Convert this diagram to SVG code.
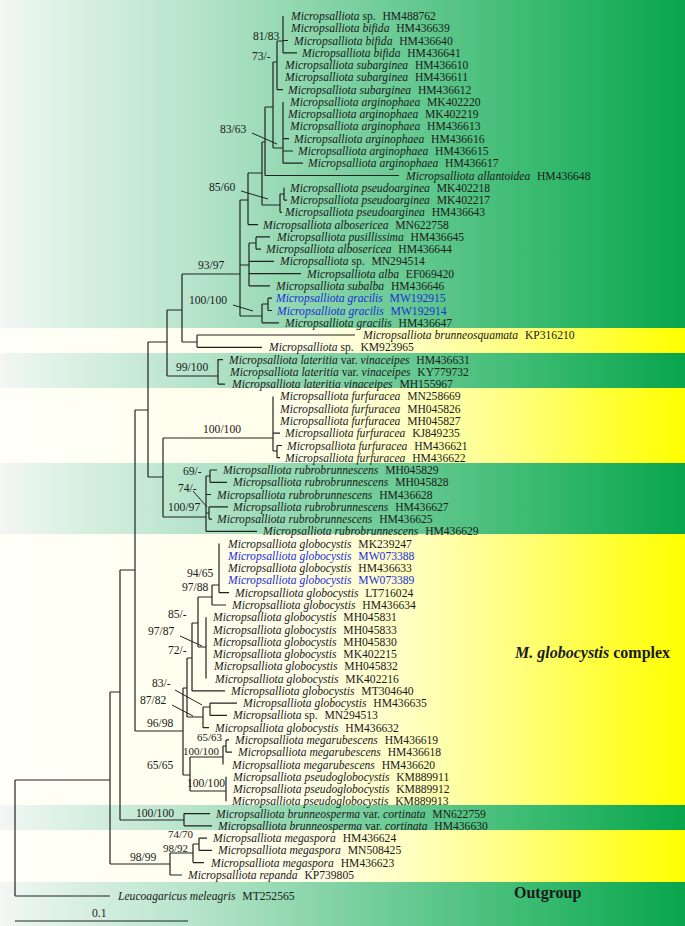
<svg xmlns="http://www.w3.org/2000/svg" width="685" height="926" viewBox="0 0 685 926">
<defs>
<linearGradient id="gg" x1="0" y1="0" x2="685" y2="0" gradientUnits="userSpaceOnUse">
<stop offset="0" stop-color="#f4f6f5"/><stop offset="0.06" stop-color="#e4f3ea"/><stop offset="0.3" stop-color="#b3e3c8"/><stop offset="0.55" stop-color="#72cd9a"/><stop offset="0.8" stop-color="#35b96d"/><stop offset="1" stop-color="#08a54c"/>
</linearGradient>
<linearGradient id="gy" x1="0" y1="0" x2="685" y2="0" gradientUnits="userSpaceOnUse">
<stop offset="0" stop-color="#fffff8"/><stop offset="0.45" stop-color="#fffee8"/><stop offset="0.6" stop-color="#ffffc0"/><stop offset="0.75" stop-color="#ffff80"/><stop offset="0.9" stop-color="#ffff30"/><stop offset="1" stop-color="#ffff00"/>
</linearGradient>
<style>
.g{fill:url(#gg)}
.y{fill:url(#gy)}
text{font-family:"Liberation Serif","Times New Roman",serif;font-size:11.6px;fill:#1a1a1a}
.i{font-style:italic}
.bl,.bl tspan{fill:#1c2ed8}
.ln{fill:none;stroke:#222;stroke-width:1.2}
.pt{fill:none;stroke:#222;stroke-width:1}
.h{font-size:16px;font-weight:bold}
.sm{font-size:11px}
</style>
</defs>
<g id="bands">
<rect class="g" x="0" y="0" width="685" height="328"/>
<rect class="y" x="0" y="328" width="685" height="25"/>
<rect class="g" x="0" y="353" width="685" height="35"/>
<rect class="y" x="0" y="388" width="685" height="75"/>
<rect class="g" x="0" y="463" width="685" height="71"/>
<rect class="y" x="0" y="534" width="685" height="271"/>
<rect class="g" x="0" y="805" width="685" height="25"/>
<rect class="y" x="0" y="830" width="685" height="52"/>
<rect class="g" x="0" y="882" width="685" height="44"/>
</g>
<g id="connectors">
<path class="ln" d="M15 780V896M15 780H110M15 896H110M110 692V864M110 864H170M170 853V875M170 875H182M170 853H193M193 844V862.6M193 862.6H204M193 844H199M199 838.1V850.4M199 838.1H207M199 850.4H212"/>
<path class="ln" d="M110 692H120M120 570V820M120 820H184M184 813.6V825.8M184 813.6H210M184 825.8H212M120 570H135"/>
<path class="ln" d="M135 410V731M135 731H183M135 410H148M148 342V477M148 342H167M148 477H163"/>
<path class="ln" d="M167 310V376M167 376H218M218 359.6V384.1M218 359.6H223M218 384.1H225M167 310H182"/>
<path class="ln" d="M182 274V342M182 342H197M197 335V347.3M197 335H355M197 347.3H262M182 274H240"/>
<path class="ln" d="M240 200V316M240 200H248M240 265H249M240 316H262M248 173V224.6M248 224.6H258M248 173H262M262 142V205M262 142H265M262 205H280M280 194V212.3M280 212.3H282M280 194H284M284 187.8V200.1M284 200.1H287"/>
<path class="ln" d="M265 107V175.5M265 175.5H399M265 107H273M273 62V148M273 62H277M273 148H283M283 101.9V163.2M283 138.7H289M283 151H293M283 163.2H303M277 41V89.6M277 89.6H283M277 41H283M283 16V52.8M283 40.5H288M283 52.8H297"/>
<path class="ln" d="M249 243V285.9M249 243H256M249 261.4H274M249 273.7H301M249 285.9H270M256 236.9V249.1M256 236.9H270M256 249.1H261M262 304V322.8M262 304H268M262 322.8H279M268 298.2V310.5M268 298.2H272M268 310.5H272"/>
<path class="ln" d="M163 438V517M163 438H273M163 517H206M273 396.4V451M273 433.2H280M273 451H277M277 445.5V457.7M277 445.5H282M277 457.7H280"/>
<path class="ln" d="M206 476V531.4M206 476H210M206 494.5H211M206 513H209M206 531.4H257M210 470V482.3M210 470H217M210 482.3H227M209 506.8V519.1M209 506.8H228M209 519.1H212"/>
<path class="ln" d="M183 688V775M183 688H187M183 775H190M187 658V717M187 658H192M187 717H203M192 623V690.9M192 690.9H225M192 623H198M198 597V647M198 597H212M198 647H206M206 617.2V678.6M212 585V605M212 605H226M212 585H219M219 543.6V592.7M219 592.7H229"/>
<path class="ln" d="M203 707V727.7M203 727.7H209M203 707H210M210 703.1V715.4M210 703.1H237M210 715.4H227"/>
<path class="ln" d="M190 757V791M190 757H223M190 791H226M223 746V764.5M223 746H226M226 739.9V752.2M226 739.9H229M226 752.2H232M226 776.7V801.3"/>
<path class="pt" d="M252 133L277 144M241 191L268 199M233 305L253 311M193 491L207 507M180 636L202 646M175 690L202 705M172 705L193 716"/>
<path class="ln" d="M15 921H188"/>
</g>
<g id="support">
<text x="253" y="40">81/83</text>
<text x="252" y="60">73/-</text>
<text x="220" y="133">83/63</text>
<text x="209" y="191">85/60</text>
<text x="198" y="269">93/97</text>
<text x="189" y="304">100/100</text>
<text x="176" y="371">99/100</text>
<text x="203" y="433">100/100</text>
<text x="183" y="475">69/-</text>
<text x="178" y="492">74/-</text>
<text x="168" y="511">100/97</text>
<text x="187" y="577">94/65</text>
<text x="182" y="591">97/88</text>
<text x="168" y="618">85/-</text>
<text x="148" y="635">97/87</text>
<text x="168" y="654">72/-</text>
<text x="152" y="687">83/-</text>
<text x="140" y="704">87/82</text>
<text x="147" y="727">96/98</text>
<text class="sm" x="197" y="741">65/63</text>
<text class="sm" x="183" y="755">100/100</text>
<text x="147" y="769">65/65</text>
<text x="187" y="787">100/100</text>
<text x="136" y="817">100/100</text>
<text class="sm" x="168" y="838">74/70</text>
<text class="sm" x="163" y="852">98/92</text>
<text x="130" y="861">98/99</text>
<text x="92" y="917">0.1</text>
</g>
<g id="tips">
<g id="t1"><text x="291" y="20"><tspan class="i">Micropsalliota</tspan> sp.<tspan dx="6.8">HM488762</tspan></text></g>
<g id="t2"><text x="291" y="32.3"><tspan class="i">Micropsalliota bifida</tspan><tspan dx="6.8">HM436639</tspan></text></g>
<g id="t3"><text x="294" y="44.5"><tspan class="i">Micropsalliota bifida</tspan><tspan dx="6.8">HM436640</tspan></text></g>
<g id="t4"><text x="302" y="56.8"><tspan class="i">Micropsalliota bifida</tspan><tspan dx="6.8">HM436641</tspan></text></g>
<g id="t5"><text x="285" y="69.1"><tspan class="i">Micropsalliota subarginea</tspan><tspan dx="6.8">HM436610</tspan></text></g>
<g id="t6"><text x="285" y="81.4"><tspan class="i">Micropsalliota subarginea</tspan><tspan dx="6.8">HM436611</tspan></text></g>
<g id="t7"><text x="288" y="93.6"><tspan class="i">Micropsalliota subarginea</tspan><tspan dx="6.8">HM436612</tspan></text></g>
<g id="t8"><text x="290" y="105.9"><tspan class="i">Micropsalliota arginophaea</tspan><tspan dx="6.8">MK402220</tspan></text></g>
<g id="t9"><text x="288" y="118.2"><tspan class="i">Micropsalliota arginophaea</tspan><tspan dx="6.8">MK402219</tspan></text></g>
<g id="t10"><text x="290" y="130.4"><tspan class="i">Micropsalliota arginophaea</tspan><tspan dx="6.8">HM436613</tspan></text></g>
<g id="t11"><text x="294" y="142.7"><tspan class="i">Micropsalliota arginophaea</tspan><tspan dx="6.8">HM436616</tspan></text></g>
<g id="t12"><text x="298" y="155"><tspan class="i">Micropsalliota arginophaea</tspan><tspan dx="6.8">HM436615</tspan></text></g>
<g id="t13"><text x="308" y="167.2"><tspan class="i">Micropsalliota arginophaea</tspan><tspan dx="6.8">HM436617</tspan></text></g>
<g id="t14"><text x="406" y="179.5"><tspan class="i">Micropsalliota allantoidea</tspan><tspan dx="6.8">HM436648</tspan></text></g>
<g id="t15"><text x="290" y="191.8"><tspan class="i">Micropsalliota pseudoarginea</tspan><tspan dx="6.8">MK402218</tspan></text></g>
<g id="t16"><text x="290" y="204.1"><tspan class="i">Micropsalliota pseudoarginea</tspan><tspan dx="6.8">MK402217</tspan></text></g>
<g id="t17"><text x="285" y="216.3"><tspan class="i">Micropsalliota pseudoarginea</tspan><tspan dx="6.8">HM436643</tspan></text></g>
<g id="t18"><text x="263" y="228.6"><tspan class="i">Micropsalliota albosericea</tspan><tspan dx="6.8">MN622758</tspan></text></g>
<g id="t19"><text x="277" y="240.9"><tspan class="i">Micropsalliota pusillissima</tspan><tspan dx="6.8">HM436645</tspan></text></g>
<g id="t20"><text x="266" y="253.1"><tspan class="i">Micropsalliota albosericea</tspan><tspan dx="6.8">HM436644</tspan></text></g>
<g id="t21"><text x="280" y="265.4"><tspan class="i">Micropsalliota</tspan> sp.<tspan dx="6.8">MN294514</tspan></text></g>
<g id="t22"><text x="307" y="277.7"><tspan class="i">Micropsalliota alba</tspan><tspan dx="6.8">EF069420</tspan></text></g>
<g id="t23"><text x="276" y="289.9"><tspan class="i">Micropsalliota subalba</tspan><tspan dx="6.8">HM436646</tspan></text></g>
<g id="t24"><text class="bl" x="276" y="302.2"><tspan class="i">Micropsalliota gracilis</tspan><tspan dx="6.8">MW192915</tspan></text></g>
<g id="t25"><text class="bl" x="277" y="314.5"><tspan class="i">Micropsalliota gracilis</tspan><tspan dx="6.8">MW192914</tspan></text></g>
<g id="t26"><text x="285" y="326.8"><tspan class="i">Micropsalliota gracilis</tspan><tspan dx="6.8">HM436647</tspan></text></g>
<g id="t27"><text x="363" y="339"><tspan class="i">Micropsalliota brunneosquamata</tspan><tspan dx="6.8">KP316210</tspan></text></g>
<g id="t28"><text x="269" y="351.3"><tspan class="i">Micropsalliota</tspan> sp.<tspan dx="6.8">KM923965</tspan></text></g>
<g id="t29"><text x="229" y="363.6"><tspan class="i">Micropsalliota lateritia</tspan> var. <tspan class="i">vinaceipes</tspan><tspan dx="6.8">HM436631</tspan></text></g>
<g id="t30"><text x="230" y="375.8"><tspan class="i">Micropsalliota lateritia</tspan> var. <tspan class="i">vinaceipes</tspan><tspan dx="6.8">KY779732</tspan></text></g>
<g id="t31"><text x="232" y="388.1"><tspan class="i">Micropsalliota lateritia vinaceipes</tspan><tspan dx="6.8">MH155967</tspan></text></g>
<g id="t32"><text x="280" y="400.4"><tspan class="i">Micropsalliota furfuracea</tspan><tspan dx="6.8">MN258669</tspan></text></g>
<g id="t33"><text x="280" y="412.7"><tspan class="i">Micropsalliota furfuracea</tspan><tspan dx="6.8">MH045826</tspan></text></g>
<g id="t34"><text x="280" y="424.9"><tspan class="i">Micropsalliota furfuracea</tspan><tspan dx="6.8">MH045827</tspan></text></g>
<g id="t35"><text x="285" y="437.2"><tspan class="i">Micropsalliota furfuracea</tspan><tspan dx="6.8">KJ849235</tspan></text></g>
<g id="t36"><text x="287" y="449.5"><tspan class="i">Micropsalliota furfuracea</tspan><tspan dx="6.8">HM436621</tspan></text></g>
<g id="t37"><text x="285" y="461.7"><tspan class="i">Micropsalliota furfuracea</tspan><tspan dx="6.8">HM436622</tspan></text></g>
<g id="t38"><text x="223" y="474"><tspan class="i">Micropsalliota rubrobrunnescens</tspan><tspan dx="6.8">MH045829</tspan></text></g>
<g id="t39"><text x="233" y="486.3"><tspan class="i">Micropsalliota rubrobrunnescens</tspan><tspan dx="6.8">MH045828</tspan></text></g>
<g id="t40"><text x="217" y="498.5"><tspan class="i">Micropsalliota rubrobrunnescens</tspan><tspan dx="6.8">HM436628</tspan></text></g>
<g id="t41"><text x="233" y="510.8"><tspan class="i">Micropsalliota rubrobrunnescens</tspan><tspan dx="6.8">HM436627</tspan></text></g>
<g id="t42"><text x="217" y="523.1"><tspan class="i">Micropsalliota rubrobrunnescens</tspan><tspan dx="6.8">HM436625</tspan></text></g>
<g id="t43"><text x="263" y="535.4"><tspan class="i">Micropsalliota rubrobrunnescens</tspan><tspan dx="6.8">HM436629</tspan></text></g>
<g id="t44"><text x="228" y="547.6"><tspan class="i">Micropsalliota globocystis</tspan><tspan dx="6.8">MK239247</tspan></text></g>
<g id="t45"><text class="bl" x="228" y="559.9"><tspan class="i">Micropsalliota globocystis</tspan><tspan dx="6.8">MW073388</tspan></text></g>
<g id="t46"><text x="228" y="572.2"><tspan class="i">Micropsalliota globocystis</tspan><tspan dx="6.8">HM436633</tspan></text></g>
<g id="t47"><text class="bl" x="228" y="584.4"><tspan class="i">Micropsalliota globocystis</tspan><tspan dx="6.8">MW073389</tspan></text></g>
<g id="t48"><text x="235" y="596.7"><tspan class="i">Micropsalliota globocystis</tspan><tspan dx="6.8">LT716024</tspan></text></g>
<g id="t49"><text x="232" y="609"><tspan class="i">Micropsalliota globocystis</tspan><tspan dx="6.8">HM436634</tspan></text></g>
<g id="t50"><text x="213" y="621.2"><tspan class="i">Micropsalliota globocystis</tspan><tspan dx="6.8">MH045831</tspan></text></g>
<g id="t51"><text x="213" y="633.5"><tspan class="i">Micropsalliota globocystis</tspan><tspan dx="6.8">MH045833</tspan></text></g>
<g id="t52"><text x="213" y="645.8"><tspan class="i">Micropsalliota globocystis</tspan><tspan dx="6.8">MH045830</tspan></text></g>
<g id="t53"><text x="213" y="658.1"><tspan class="i">Micropsalliota globocystis</tspan><tspan dx="6.8">MK402215</tspan></text></g>
<g id="t54"><text x="214" y="670.3"><tspan class="i">Micropsalliota globocystis</tspan><tspan dx="6.8">MH045832</tspan></text></g>
<g id="t55"><text x="215" y="682.6"><tspan class="i">Micropsalliota globocystis</tspan><tspan dx="6.8">MK402216</tspan></text></g>
<g id="t56"><text x="231" y="694.9"><tspan class="i">Micropsalliota globocystis</tspan><tspan dx="6.8">MT304640</tspan></text></g>
<g id="t57"><text x="243" y="707.1"><tspan class="i">Micropsalliota globocystis</tspan><tspan dx="6.8">HM436635</tspan></text></g>
<g id="t58"><text x="233" y="719.4"><tspan class="i">Micropsalliota</tspan> sp.<tspan dx="6.8">MN294513</tspan></text></g>
<g id="t59"><text x="215" y="731.7"><tspan class="i">Micropsalliota globocystis</tspan><tspan dx="6.8">HM436632</tspan></text></g>
<g id="t60"><text x="235" y="743.9"><tspan class="i">Micropsalliota megarubescens</tspan><tspan dx="6.8">HM436619</tspan></text></g>
<g id="t61"><text x="238" y="756.2"><tspan class="i">Micropsalliota megarubescens</tspan><tspan dx="6.8">HM436618</tspan></text></g>
<g id="t62"><text x="232" y="768.5"><tspan class="i">Micropsalliota megarubescens</tspan><tspan dx="6.8">HM436620</tspan></text></g>
<g id="t63"><text x="233" y="780.7"><tspan class="i">Micropsalliota pseudoglobocystis</tspan><tspan dx="6.8">KM889911</tspan></text></g>
<g id="t64"><text x="233" y="793"><tspan class="i">Micropsalliota pseudoglobocystis</tspan><tspan dx="6.8">KM889912</tspan></text></g>
<g id="t65"><text x="232" y="805.3"><tspan class="i">Micropsalliota pseudoglobocystis</tspan><tspan dx="6.8">KM889913</tspan></text></g>
<g id="t66"><text x="216" y="817.6"><tspan class="i">Micropsalliota brunneosperma</tspan> var. <tspan class="i">cortinata</tspan><tspan dx="6.8">MN622759</tspan></text></g>
<g id="t67"><text x="218" y="829.8"><tspan class="i">Micropsalliota brunneosperma</tspan> var. <tspan class="i">cortinata</tspan><tspan dx="6.8">HM436630</tspan></text></g>
<g id="t68"><text x="213" y="842.1"><tspan class="i">Micropsalliota megaspora</tspan><tspan dx="6.8">HM436624</tspan></text></g>
<g id="t69"><text x="218" y="854.4"><tspan class="i">Micropsalliota megaspora</tspan><tspan dx="6.8">MN508425</tspan></text></g>
<g id="t70"><text x="211" y="866.6"><tspan class="i">Micropsalliota megaspora</tspan><tspan dx="6.8">HM436623</tspan></text></g>
<g id="t71"><text x="188" y="878.9"><tspan class="i">Micropsalliota repanda</tspan><tspan dx="6.8">KP739805</tspan></text></g>
<g id="t72"><text x="118" y="900"><tspan class="i">Leucoagaricus meleagris</tspan><tspan dx="6.8">MT252565</tspan></text></g>
</g>
<g id="groups">
<text class="h" x="515" y="658"><tspan font-style="italic">M. globocystis</tspan> complex</text>
<text class="h" x="514" y="898">Outgroup</text>
</g>
</svg>
